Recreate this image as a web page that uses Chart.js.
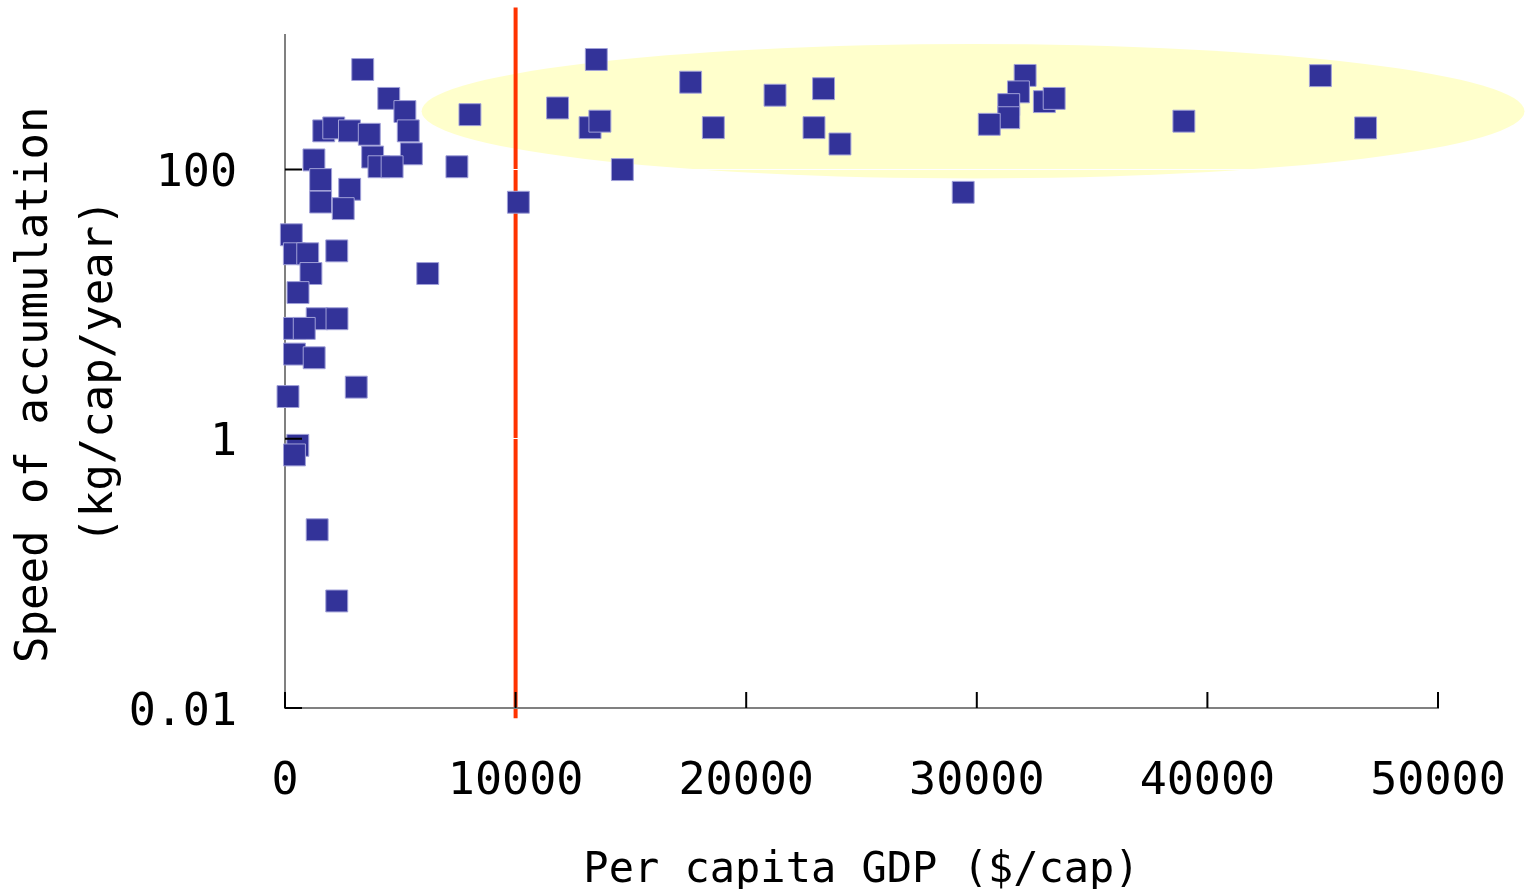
<!DOCTYPE html>
<html>
<head>
<meta charset="utf-8">
<script src="https://cdn.jsdelivr.net/npm/chart.js@4.4.1/dist/chart.umd.min.js"></script>
<style>
  body { margin: 0; background: #fff; }
</style>
</head>
<body>
<canvas id="gdpChart" width="1529" height="889"></canvas>
<script>
// per capita GDP ($/cap) and speed of accumulation (kg/cap/year), one entry per country
var gdp = [3370, 4500, 5200, 5345, 5480, 1680, 2115, 2795, 3655, 3800,
           4075, 4645, 1255, 1545, 1545, 2805, 2525, 8020, 7455, 10120,
           11820, 275, 405, 985, 2245, 6190, 1125, 565, 1395, 2255,
           410, 835, 410, 1265, 3090, 130, 555, 410, 1395, 2245,
           13500, 13230, 13655, 14630, 17590, 18575, 21250, 23355, 22940, 24065,
           32095, 31805, 31385, 31385, 30540, 32930, 33355, 38980, 44900, 46860,
           29410];
var speed = [554, 338, 270, 194, 131, 194, 204, 194, 183, 124,
             105, 105, 118, 84.3, 57.4, 71.4, 51.3, 256, 105, 57.2,
             287, 32.8, 23.7, 23.7, 24.9, 16.9, 16.9, 12.2, 7.8, 7.8,
             6.61, 6.61, 4.26, 4.0, 2.42, 2.06, 0.894, 0.759, 0.211, 0.0624,
             658, 205, 229, 100, 446, 205, 357, 399, 205, 155,
             501, 378, 304, 243, 217, 320, 338, 229, 499, 204,
             67.8];

var xTicks = [0, 10000, 20000, 30000, 40000, 50000];
var yTicks = [0.01, 1, 100];
var yTickLabels = ['0.01', '1', '100'];

// red threshold line and the highlighted group (data units)
var threshold = 10000;
var thresholdSpan = [0.0084, 1600];
var highlight = { xMin: 5925, xMax: 53750, yMin: 86, yMax: 857 };

var fontFamily = 'DejaVu Sans Mono';

var extras = {
  id: 'extras',
  beforeDraw: function(chart) {
    var ctx = chart.ctx, sx = chart.scales.x, sy = chart.scales.y;
    var l = sx.getPixelForValue(highlight.xMin), r = sx.getPixelForValue(highlight.xMax);
    var t = sy.getPixelForValue(highlight.yMax), b = sy.getPixelForValue(highlight.yMin);
    ctx.save();
    ctx.fillStyle = '#ffffcc';
    ctx.beginPath();
    ctx.ellipse((l + r) / 2, (t + b) / 2, (r - l) / 2, (b - t) / 2, 0, 0, Math.PI * 2);
    ctx.fill();

    var px = sx.getPixelForValue(threshold);
    ctx.strokeStyle = '#ff3300';
    ctx.lineWidth = 4;
    ctx.beginPath();
    ctx.moveTo(px, sy.getPixelForValue(thresholdSpan[1]));
    ctx.lineTo(px, sy.getPixelForValue(thresholdSpan[0]));
    ctx.stroke();
    ctx.restore();
  },
  afterDraw: function(chart) {
    // tick marks point into the plot
    var ctx = chart.ctx, sx = chart.scales.x, sy = chart.scales.y, a = chart.chartArea;
    ctx.save();
    ctx.strokeStyle = '#000';
    ctx.lineWidth = 2;
    ctx.beginPath();
    sx.ticks.forEach(function(t) {
      var p = sx.getPixelForValue(t.value);
      ctx.moveTo(p, a.bottom);
      ctx.lineTo(p, a.bottom - 16);
    });
    sy.ticks.forEach(function(t) {
      var p = sy.getPixelForValue(t.value);
      ctx.moveTo(a.left, p);
      ctx.lineTo(a.left + 17, p);
    });
    ctx.stroke();
    ctx.restore();
  }
};

var ctx = document.getElementById('gdpChart').getContext('2d');
var gdpChart = new Chart(ctx, {
  type: 'scatter',
  data: {
    datasets: [{
      data: gdp.map(function(g, i) { return { x: g, y: speed[i] }; }),
      pointStyle: 'rect',
      pointRadius: 15.5,
      pointHoverRadius: 15.5,
      backgroundColor: '#333399',
      borderColor: '#a0a0d8',
      borderWidth: 1,
      clip: false
    }]
  },
  options: {
    responsive: false,
    animation: false,
    layout: { padding: { top: 35, right: 91, bottom: 0, left: 0 } },
    plugins: {
      legend: { display: false },
      tooltip: { enabled: false }
    },
    scales: {
      x: {
        type: 'linear',
        min: 0,
        max: 50000,
        afterBuildTicks: function(s) { s.ticks = xTicks.map(function(v) { return { value: v }; }); },
        afterFit: function(s) { s.height = 181; s.paddingLeft = 0; s.paddingRight = 0; },
        grid: { display: false, drawTicks: false },
        border: { color: '#808080', width: 2 },
        ticks: {
          padding: 47,
          color: '#000',
          maxRotation: 0,
          autoSkip: false,
          font: { family: fontFamily, size: 45 },
          callback: function(v) { return String(v); }
        },
        title: {
          display: true,
          text: 'Per capita GDP ($/cap)',
          color: '#000',
          font: { family: fontFamily, size: 42, lineHeight: 0.86 },
          padding: { top: 0, bottom: 0 }
        }
      },
      y: {
        type: 'logarithmic',
        min: 0.01,
        max: 1000,
        afterBuildTicks: function(s) { s.ticks = yTicks.map(function(v) { return { value: v }; }); },
        afterFit: function(s) { s.width = 285; s.paddingTop = 0; s.paddingBottom = 0; },
        grid: { color: '#ffffff', lineWidth: 1, drawTicks: false },
        border: { color: '#808080', width: 2 },
        ticks: {
          padding: 48,
          labelOffset: 5,
          color: '#000',
          font: { family: fontFamily, size: 45 },
          callback: function(v, i) { return yTickLabels[i]; }
        },
        title: {
          display: true,
          text: ['Speed of accumulation ', '(kg/cap/year)'],
          color: '#000',
          font: { family: fontFamily, size: 44, lineHeight: 1.48 },
          padding: { top: 3, bottom: 0 }
        }
      }
    }
  },
  plugins: [extras]
});
</script>
</body>
</html>
